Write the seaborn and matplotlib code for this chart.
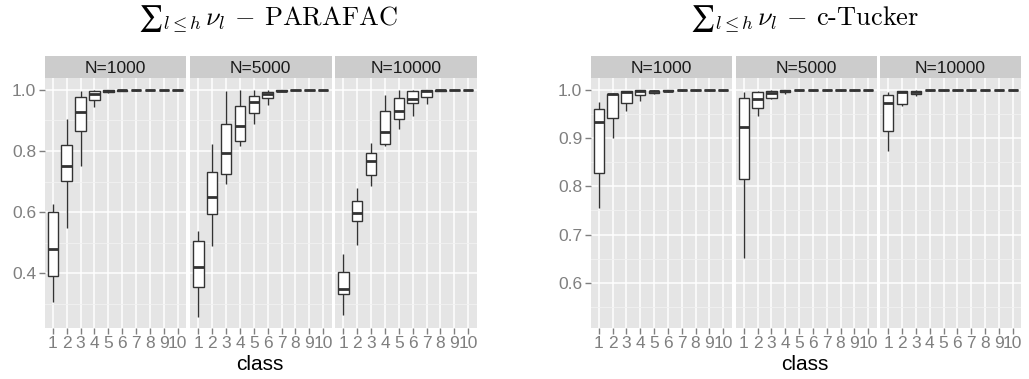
import numpy as np
import pandas as pd
import matplotlib
matplotlib.use("Agg")
import matplotlib.pyplot as plt
import seaborn as sns

# ---------------- data (lo whisker, q1, median, q3, hi whisker) per class ----------------
classes = ["1", "2", "3", "4", "5", "6", "7", "8", "9", "10"]
sample_sizes = ["N=1000", "N=5000", "N=10000"]

parafac_n1000 = [
    (0.306, 0.391, 0.481, 0.601, 0.628),
    (0.547, 0.702, 0.751, 0.820, 0.904),
    (0.751, 0.867, 0.929, 0.976, 0.998),
    (0.943, 0.967, 0.986, 0.995, 1.000),
    (0.990, 0.993, 0.997, 0.999, 1.000),
    (0.996, 0.998, 0.999, 1.000, 1.000),
    (0.998, 0.999, 1.000, 1.000, 1.000),
    (0.999, 1.000, 1.000, 1.000, 1.000),
    (0.999, 1.000, 1.000, 1.000, 1.000),
    (0.999, 1.000, 1.000, 1.000, 1.000),
]
parafac_n5000 = [
    (0.258, 0.354, 0.420, 0.506, 0.540),
    (0.489, 0.593, 0.651, 0.731, 0.822),
    (0.692, 0.724, 0.795, 0.888, 0.998),
    (0.817, 0.834, 0.882, 0.948, 1.000),
    (0.889, 0.924, 0.962, 0.980, 1.000),
    (0.951, 0.975, 0.986, 0.993, 1.000),
    (0.995, 0.996, 0.998, 0.999, 1.000),
    (0.999, 1.000, 1.000, 1.000, 1.000),
    (0.999, 1.000, 1.000, 1.000, 1.000),
    (0.999, 1.000, 1.000, 1.000, 1.000),
]
parafac_n10000 = [
    (0.264, 0.332, 0.349, 0.405, 0.463),
    (0.492, 0.572, 0.596, 0.635, 0.680),
    (0.686, 0.722, 0.769, 0.795, 0.825),
    (0.817, 0.824, 0.861, 0.932, 0.984),
    (0.871, 0.906, 0.931, 0.975, 1.000),
    (0.915, 0.956, 0.969, 0.997, 1.000),
    (0.953, 0.978, 0.995, 1.000, 1.000),
    (0.997, 0.998, 0.999, 1.000, 1.000),
    (0.999, 1.000, 1.000, 1.000, 1.000),
    (0.999, 1.000, 1.000, 1.000, 1.000),
]
tucker_n1000 = [
    (0.756, 0.827, 0.934, 0.960, 0.976),
    (0.901, 0.941, 0.991, 0.992, 0.993),
    (0.956, 0.974, 0.996, 0.997, 0.999),
    (0.978, 0.989, 0.998, 1.000, 1.000),
    (0.991, 0.993, 0.998, 0.999, 1.000),
    (0.996, 0.997, 0.999, 0.9995, 1.000),
    (0.999, 0.9995, 1.000, 1.000, 1.000),
    (0.999, 0.9995, 1.000, 1.000, 1.000),
    (0.999, 0.9995, 1.000, 1.000, 1.000),
    (0.999, 0.9995, 1.000, 1.000, 1.000),
]
tucker_n5000 = [
    (0.652, 0.815, 0.924, 0.984, 0.995),
    (0.946, 0.962, 0.981, 0.995, 0.999),
    (0.981, 0.984, 0.994, 0.999, 1.000),
    (0.992, 0.995, 0.997, 1.000, 1.000),
    (0.999, 0.9995, 1.000, 1.000, 1.000),
    (0.999, 0.9995, 1.000, 1.000, 1.000),
    (0.999, 0.9995, 1.000, 1.000, 1.000),
    (0.999, 0.9995, 1.000, 1.000, 1.000),
    (0.999, 0.9995, 1.000, 1.000, 1.000),
    (0.999, 0.9995, 1.000, 1.000, 1.000),
]
tucker_n10000 = [
    (0.873, 0.915, 0.974, 0.990, 0.995),
    (0.967, 0.972, 0.9965, 0.998, 0.999),
    (0.988, 0.992, 0.996, 0.999, 1.000),
    (0.999, 0.9995, 1.000, 1.000, 1.000),
    (0.999, 0.9995, 1.000, 1.000, 1.000),
    (0.999, 0.9995, 1.000, 1.000, 1.000),
    (0.999, 0.9995, 1.000, 1.000, 1.000),
    (0.999, 0.9995, 1.000, 1.000, 1.000),
    (0.999, 0.9995, 1.000, 1.000, 1.000),
    (0.999, 0.9995, 1.000, 1.000, 1.000),
]

parafac_title = "$\u2211_{l\\leq h}\\,\\nu_l$ $-$ PARAFAC"
tucker_title = "$\u2211_{l\\leq h}\\,\\nu_l$ $-$ c-Tucker"
xlabel_text = "class"

parafac_yticks = [0.4, 0.6, 0.8, 1.0]
parafac_yminor = [0.3, 0.5, 0.7, 0.9]
tucker_yticks = [0.6, 0.7, 0.8, 0.9, 1.0]
tucker_yminor = [0.55, 0.65, 0.75, 0.85, 0.95]

# ---------------- styling ----------------
plt.rcParams["mathtext.fontset"] = "cm"
plt.rcParams["font.family"] = ["Liberation Sans", "DejaVu Sans"]

W, H = 1029, 379
fig = plt.figure(figsize=(W / 100, H / 100), dpi=100)


def px_axes(x0, top, w, h):
    return fig.add_axes([x0 / W, 1 - (top + h) / H, w / W, h / H])


def to_frame(stats):
    rows = []
    for c, vals in zip(classes, stats):
        for v in vals:
            rows.append({"class": c, "value": v})
    return pd.DataFrame(rows)


PANEL_TOP, PANEL_H = 78, 250
STRIP_TOP, STRIP_H = 56, 22
GRAY_TXT = "#7F7F7F"

groups = [
    dict(data=[parafac_n1000, parafac_n5000, parafac_n10000],
         xs=[44.5, 190, 335], w=141.5, ylim=(0.221, 1.039),
         yt=parafac_yticks, ym=parafac_yminor, title=parafac_title,
         tx=268, cx=260, fmt="{:.1f}"),
    dict(data=[tucker_n1000, tucker_n5000, tucker_n10000],
         xs=[590.5, 735.5, 880], w=141, ylim=(0.506, 1.025),
         yt=tucker_yticks, ym=tucker_yminor, title=tucker_title,
         tx=805, cx=805, fmt="{:.1f}"),
]

for g in groups:
    for i, (stats, x0) in enumerate(zip(g["data"], g["xs"])):
        ax = px_axes(x0, PANEL_TOP, g["w"], PANEL_H)
        df = to_frame(stats)
        sns.boxplot(data=df, x="class", y="value", order=classes, ax=ax,
                    color="white", linecolor="#333333", linewidth=1.0,
                    width=0.75, whis=(0, 100), showcaps=False, fliersize=0,
                    medianprops=dict(linewidth=2.0, color="#333333"))
        ax.set_facecolor("#E5E5E5")
        ax.set_xlim(-0.6, 9.6)
        ax.set_ylim(*g["ylim"])
        ax.set_yticks(g["yt"])
        ax.set_yticks(g["ym"], minor=True)
        ax.set_yticklabels([g["fmt"].format(v) for v in g["yt"]])
        ax.grid(which="major", color="white", linewidth=1.1)
        ax.grid(which="minor", axis="y", color="#F2F2F2", linewidth=0.6)
        ax.set_axisbelow(True)
        for s in ax.spines.values():
            s.set_visible(False)
        ax.set_xlabel("")
        ax.set_ylabel("")
        ax.tick_params(axis="both", which="major", colors=GRAY_TXT,
                       labelsize=12.5, length=4, width=1, pad=2)
        ax.tick_params(axis="both", which="minor", length=0)
        if i > 0:
            ax.tick_params(axis="y", which="both", left=False, labelleft=False)

        sax = px_axes(x0, STRIP_TOP, g["w"], STRIP_H)
        sax.set_facecolor("#CCCCCC")
        sax.set_xticks([])
        sax.set_yticks([])
        for s in sax.spines.values():
            s.set_visible(False)
        sax.text(0.5, 0.45, sample_sizes[i], ha="center", va="center",
                 fontsize=12.5, color="#1A1A1A", transform=sax.transAxes)

    fig.text(g["tx"] / W, 1 - 26 / H, g["title"], fontfamily="cmr10",
             fontsize=19, ha="center", va="baseline")
    fig.text(g["cx"] / W, 1 - 370 / H, xlabel_text, fontsize=15,
             ha="center", va="baseline", color="black")

fig.savefig("out.png", dpi=100)
